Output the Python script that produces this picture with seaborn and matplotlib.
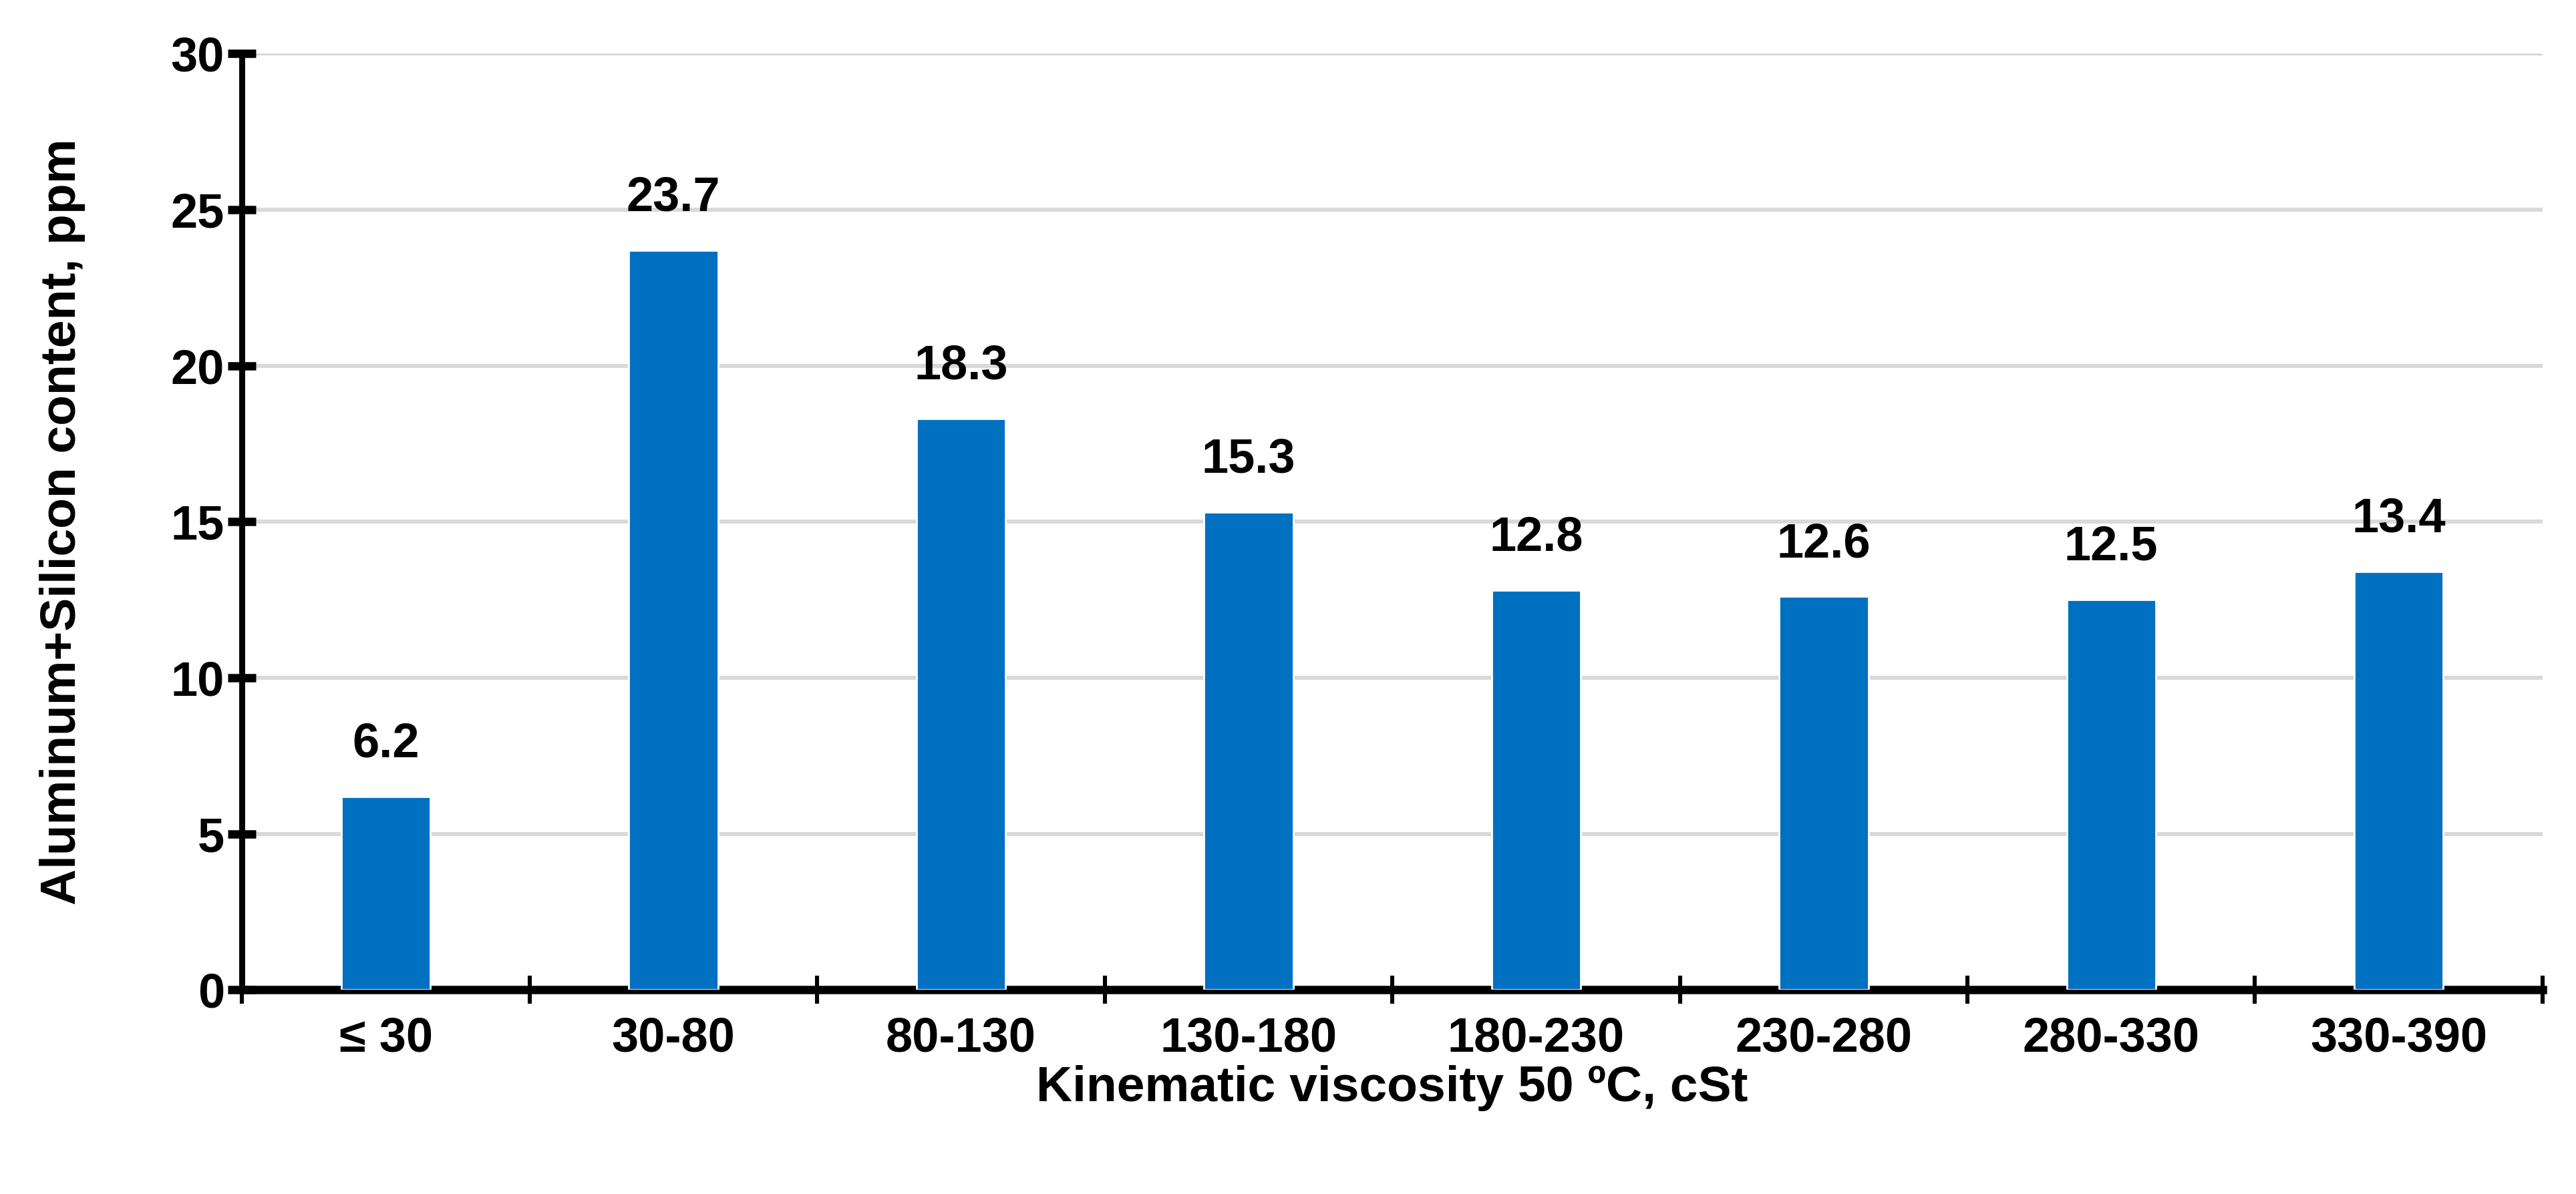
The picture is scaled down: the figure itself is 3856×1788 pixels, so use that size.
import numpy as np
import pandas as pd
import matplotlib
matplotlib.use("Agg")
import matplotlib.pyplot as plt
import seaborn as sns

# ========== Data ==========
categories = ["≤ 30", "30-80", "80-130", "130-180", "180-230", "230-280", "280-330", "330-390"]
values = [6.2, 23.7, 18.3, 15.3, 12.8, 12.6, 12.5, 13.4]
y_ticks = [0, 5, 10, 15, 20, 25, 30]

df = pd.DataFrame({"viscosity": categories, "content": values})

sns.set_style("white")
plt.rcParams['font.family'] = ['Liberation Sans', 'DejaVu Sans']
plt.rcParams['font.weight'] = 'bold'
plt.rcParams['text.color'] = 'black'
plt.rcParams['axes.labelcolor'] = 'black'
plt.rcParams['xtick.color'] = 'black'
plt.rcParams['ytick.color'] = 'black'
plt.rcParams['xtick.bottom'] = True
plt.rcParams['ytick.left'] = True

fig = plt.figure(figsize=(19.28, 8.94), dpi=200)
ax = fig.add_axes([0.094, 0.171, 0.893, 0.784])

sns.barplot(data=df, x="viscosity", y="content", color="#0070C0",
            width=0.31, saturation=1, ax=ax, zorder=3)

# data labels
for i, v in enumerate(values):
    ax.text(i, v + 0.95, f"{v:.1f}", ha="center", va="bottom",
            fontsize=26, fontweight="bold", color="black")

ax.set_ylim(0, 30)
ax.set_xlim(-0.5, len(categories) - 0.5)
ax.set_yticks(y_ticks)
ax.yaxis.grid(True, color="#d9d9d9", linewidth=2.2, zorder=0)
ax.xaxis.grid(False)

# x ticks at the category boundaries, labels at the centres
ax.set_xticks(np.arange(len(categories) + 1) - 0.5)
ax.set_xticklabels([])
ax.set_xticks(np.arange(len(categories)), minor=True)
ax.set_xticklabels(categories, minor=True, fontsize=26, fontweight="bold")
ax.tick_params(axis="x", which="major", direction="inout", length=15, width=2.2,
               color="black", bottom=True)
ax.tick_params(axis="x", which="minor", length=0, pad=14, bottom=True)
ax.tick_params(axis="y", direction="inout", length=15, width=4.5, color="black",
               labelsize=26, pad=2, left=True)
for lab in ax.get_yticklabels():
    lab.set_fontweight("bold")

for side in ["top", "right"]:
    ax.spines[side].set_visible(False)
ax.spines["left"].set_linewidth(3.2)
ax.spines["left"].set_color("black")
ax.spines["bottom"].set_linewidth(4.5)
ax.spines["bottom"].set_color("black")

ax.set_xlabel("Kinematic viscosity 50 ºC, cSt", fontsize=27, fontweight="bold", labelpad=2)
ax.set_ylabel("Aluminum+Silicon content, ppm", fontsize=27, fontweight="bold", labelpad=46)

fig.savefig("out.png", dpi=200, facecolor="white")
